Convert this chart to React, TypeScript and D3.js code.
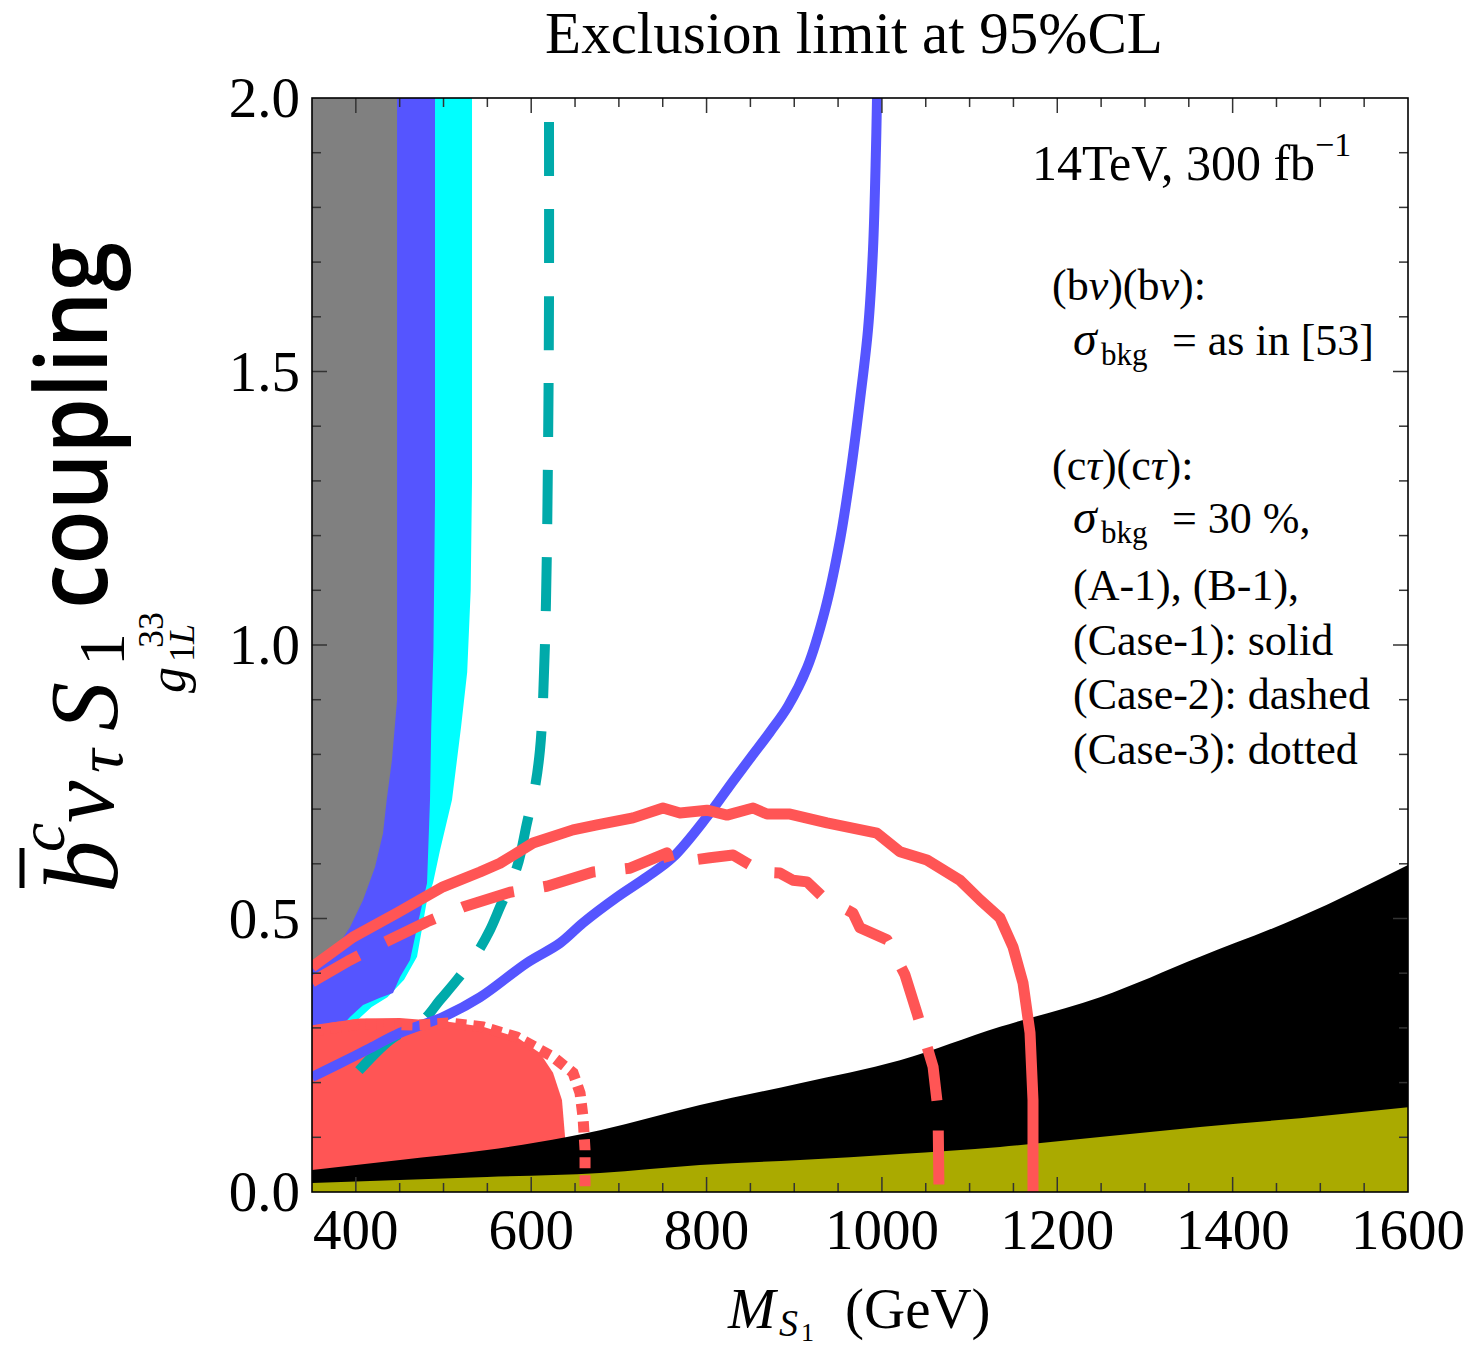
import React from 'react';
import * as d3 from 'd3';

// ---------- data (M_S1 in GeV, coupling g) ----------
const xTickValues = [400, 600, 800, 1000, 1200, 1400, 1600];
const yTickValues = [0, 0.5, 1.0, 1.5, 2.0];

const grayRegion: [number, number][] = [
  [350, 2], [447, 2], [447, 0.899], [441.2, 0.79], [435.2, 0.717], [431, 0.656],
  [421.9, 0.594], [408.2, 0.534], [393.3, 0.484], [378.5, 0.448], [350, 0.419],
];
const blueRegion: [number, number][] = [
  [350, 2], [490.3, 2], [490.3, 1.265], [488.5, 0.991], [486, 0.85], [484.6, 0.717], [481.2, 0.565],
  [470.9, 0.492], [461.8, 0.424], [450.4, 0.393], [442.4, 0.364], [427.6, 0.355],
  [408.2, 0.342], [393.3, 0.32], [381.9, 0.3], [350, 0.27],
];
const cyanRegion: [number, number][] = [
  [350, 2], [532.5, 2], [532.5, 1.3], [531, 1.1], [527, 0.95], [520, 0.85],
  [509.7, 0.717], [496, 0.625], [488, 0.565], [481.2, 0.534], [469.8, 0.43],
  [455, 0.388], [436, 0.356], [418, 0.338], [392, 0.3], [360, 0.278], [350, 0.27],
];
const redFillRegion: [number, number][] = [
  [350, 0.305], [404.7, 0.317], [450, 0.318], [475, 0.315], [507.4, 0.311], [545, 0.302], [583.8, 0.283],
  [610, 0.254], [624.9, 0.218], [635.1, 0.168], [638.6, 0.101], [639, 0], [350, 0],
];
const blackTop: [number, number][] = [
  [350, 0.04], [450.4, 0.0585], [549.6, 0.0768], [640.8, 0.1005], [678.5, 0.113],
  [792.5, 0.159], [906.6, 0.199], [1020.6, 0.241], [1134.7, 0.302], [1248.7, 0.356],
  [1362.8, 0.43], [1476.8, 0.503], [1600, 0.598],
];
const yellowTop: [number, number][] = [
  [350, 0.0165], [549.6, 0.0274], [678.5, 0.0347], [792.5, 0.0494], [906.6, 0.0585],
  [1020.6, 0.0695], [1134.7, 0.0823], [1248.7, 0.1005], [1362.8, 0.119],
  [1476.8, 0.135], [1600, 0.155],
];
const bvSolid: [number, number][] = [
  [994.4, 2.0], [993.2, 1.905], [989.8, 1.722], [984.1, 1.576], [975, 1.448],
  [964.7, 1.32], [952.2, 1.192], [935.1, 1.064], [914.6, 0.958], [892.9, 0.888],
  [872.4, 0.841], [850.7, 0.795], [830.2, 0.751], [800.5, 0.686], [761.7, 0.612], [732.1, 0.576],
  [697.9, 0.539], [659.1, 0.492], [632.8, 0.455], [595.2, 0.419], [541.6, 0.356],
  [499.4, 0.32], [450.4, 0.291], [412.7, 0.26], [374, 0.229], [350, 0.21],
];
const tealDashed: [number, number][] = [
  [620.3, 1.956], [620.3, 1.631], [619.2, 1.357], [616.9, 1.082], [613.5, 0.899],
  [610, 0.808], [604.3, 0.74], [595.2, 0.675], [583.8, 0.594], [564.4, 0.521],
  [553, 0.479], [538.2, 0.437], [515.4, 0.388], [496, 0.351], [476.6, 0.314],
  [439, 0.278], [399, 0.214],
];
const ctSolid: [number, number][] = [
  [350, 0.411], [396.8, 0.466], [446.9, 0.51], [499.4, 0.558], [541.6, 0.585],
  [564.4, 0.601], [602, 0.638], [647.7, 0.662], [675, 0.671], [716.1, 0.684],
  [750.3, 0.702], [769.7, 0.693], [800.5, 0.698], [823.3, 0.689], [853, 0.702],
  [868.9, 0.691], [895.2, 0.691], [937.4, 0.675], [994.4, 0.656], [1020.6, 0.622],
  [1051.4, 0.607], [1089, 0.57], [1111.9, 0.534], [1134.7, 0.501], [1149.5, 0.448],
  [1160.9, 0.382], [1168.9, 0.291], [1172.3, 0.168], [1172.3, 0],
];
const ctDashed: [number, number][] = [
  [350, 0.384], [393.3, 0.424], [431, 0.455], [481.2, 0.494], [522.2, 0.521],
  [575.8, 0.548], [618, 0.559], [670.5, 0.585], [712.7, 0.592], [754.9, 0.62],
  [758.3, 0.601], [803.9, 0.611], [830.2, 0.616], [849.5, 0.598], [853, 0.585],
  [883.8, 0.583], [898.6, 0.57], [914.6, 0.567], [932.8, 0.539], [967, 0.51],
  [975, 0.483], [1005.8, 0.461], [1026.3, 0.397], [1040, 0.327], [1058.3, 0.229],
  [1064, 0.15], [1065.1, 0],
];
const ctDotted: [number, number][] = [
  [350, 0.294], [404.7, 0.307], [469.8, 0.305], [507.4, 0.309], [545, 0.302],
  [583.8, 0.283], [624.9, 0.247], [647.7, 0.218], [655.7, 0.181], [659.1, 0.137],
  [661.4, 0.077], [661.4, 0],
];

// ---------- layout ----------
const W = 1476, H = 1347;
const L = 312, R = 1408, T = 98, B = 1192;
const serif = '"Liberation Serif", "Times New Roman", serif';
const sans = '"Open Sans", "Noto Sans", sans-serif';

export default function App() {
  const x = d3.scaleLinear().domain([350, 1600]).range([L, R]);
  const y = d3.scaleLinear().domain([0, 2]).range([B, T]);
  const line = d3.line<[number, number]>().x(d => x(d[0])).y(d => y(d[1]));
  const smooth = d3.line<[number, number]>().x(d => x(d[0])).y(d => y(d[1])).curve(d3.curveCatmullRom);
  const poly = (pts: [number, number][]) => line(pts) + 'Z';
  const areaBelow = d3.area<[number, number]>()
    .x(d => x(d[0])).y0(y(0)).y1(d => y(d[1])).curve(d3.curveMonotoneX);

  const xMinor = d3.range(400, 1600, 50);
  const yMinor = d3.range(0.1, 2.0, 0.1);
  const isMajorX = (v: number) => Math.abs((v - 400) % 200) < 1e-6;
  const isMajorY = (v: number) => Math.abs(v * 2 - Math.round(v * 2)) < 1e-6;

  const tickColor = '#333';
  const maj = 15, mnr = 9;

  return (
    <svg width={W} height={H} style={{ position: 'absolute', left: 0, top: 0, background: '#fff' }}>
      <defs>
        <clipPath id="plot">
          <rect x={L} y={T} width={R - L} height={B - T} />
        </clipPath>
      </defs>
      <rect x={0} y={0} width={W} height={H} fill="#fff" />
      <g clipPath="url(#plot)">
        <path d={poly(cyanRegion)} fill="#00ffff" />
        <path d={poly(blueRegion)} fill="#5555ff" />
        <path d={poly(grayRegion)} fill="#808080" />
        <path d={poly(redFillRegion)} fill="#ff5555" />
        <path d={areaBelow(blackTop) || ''} fill="#000" />
        <path d={areaBelow(yellowTop) || ''} fill="#aaaa00" />
        <path d={smooth(tealDashed) || ''} fill="none" stroke="#00aaaa" strokeWidth={10} strokeDasharray="54 33" />
        <path d={smooth(bvSolid) || ''} fill="none" stroke="#5555ff" strokeWidth={10} strokeLinejoin="round" />
        <path d={line(ctSolid) || ''} fill="none" stroke="#ff5555" strokeWidth={11} strokeLinejoin="round" />
        <path d={line(ctDashed) || ''} fill="none" stroke="#ff5555" strokeWidth={11} strokeDasharray="54 30" strokeLinejoin="round" />
        <path d={line(ctDotted) || ''} fill="none" stroke="#ff5555" strokeWidth={11} strokeDasharray="11 7" />
      </g>

      {/* ticks */}
      <g stroke={tickColor} strokeWidth={1.5}>
        {xMinor.map(v => {
          const len = isMajorX(v) ? maj : mnr;
          return (
            <g key={'x' + v}>
              <line x1={x(v)} x2={x(v)} y1={B} y2={B - len} />
              <line x1={x(v)} x2={x(v)} y1={T} y2={T + len} />
            </g>
          );
        })}
        {yMinor.map(v => {
          const len = isMajorY(v) ? maj : mnr;
          return (
            <g key={'y' + v.toFixed(2)}>
              <line x1={L} x2={L + len} y1={y(v)} y2={y(v)} />
              <line x1={R} x2={R - len} y1={y(v)} y2={y(v)} />
            </g>
          );
        })}
      </g>
      <rect x={L} y={T} width={R - L} height={B - T} fill="none" stroke="#000" strokeWidth={1.6} />

      {/* tick labels */}
      <g fontFamily={serif} fontSize={57} fill="#000">
        {xTickValues.map(v => (
          <text key={'xl' + v} x={x(v)} y={1249} textAnchor="middle">{v}</text>
        ))}
        {yTickValues.map(v => (
          <text key={'yl' + v} x={300} y={y(v) + 19} textAnchor="end">{v.toFixed(1)}</text>
        ))}
      </g>

      {/* title */}
      <text x={854} y={53} textAnchor="middle" fontFamily={serif} fontSize={59}>Exclusion limit at 95%CL</text>

      {/* x axis title */}
      <g fontFamily={serif} fill="#000">
        <text x={728} y={1328} fontSize={57} fontStyle="italic">M</text>
        <text x={779} y={1336} fontSize={38} fontStyle="italic">S</text>
        <text x={801} y={1341} fontSize={26}>1</text>
        <text x={845} y={1328} fontSize={57}>(GeV)</text>
      </g>

      {/* y axis title */}
      <g transform="rotate(-90)" fill="#000">
        <text x={-893} y={117} fontFamily={serif} fontStyle="italic" fontSize={105}>b</text>
        <line x1={-888} x2={-848} y1={22} y2={22} stroke="#000" strokeWidth={5} />
        <text x={-852} y={64} fontFamily={serif} fontStyle="italic" fontSize={66}>c</text>
        <text x={-823} y={113} fontFamily={serif} fontStyle="italic" fontSize={95}>ν</text>
        <text x={-773} y={122} fontFamily={serif} fontStyle="italic" fontSize={66}>τ</text>
        <text x={-731} y={117} fontFamily={serif} fontStyle="italic" fontSize={98}>S</text>
        <text x={-666} y={124} fontFamily={serif} fontSize={66}>1</text>
        <text x={-609} y={107} fontFamily={sans} fontWeight={600} fontSize={100} textLength={367} lengthAdjust="spacingAndGlyphs">coupling</text>
        <text x={-693} y={185} fontFamily={serif} fontStyle="italic" fontSize={52}>g</text>
        <text x={-648} y={163} fontFamily={serif} fontSize={36}>33</text>
        <text x={-662} y={194} fontFamily={serif} fontSize={36}>1<tspan fontStyle="italic">L</tspan></text>
      </g>

      {/* annotations */}
      <g fontFamily={serif} fill="#000">
        <text x={1032} y={180} fontSize={50}>14TeV, 300 fb<tspan dy={-24} fontSize={34}>−1</tspan></text>
        <text x={1052} y={300} fontSize={44}>(b<tspan fontStyle="italic">ν</tspan>)(b<tspan fontStyle="italic">ν</tspan>):</text>
        <text x={1073} y={355} fontSize={48} fontStyle="italic">σ</text>
        <text x={1101} y={365} fontSize={31}>bkg</text>
        <text x={1172} y={355} fontSize={44}>= as in [53]</text>
        <text x={1052} y={480} fontSize={44}>(c<tspan fontStyle="italic">τ</tspan>)(c<tspan fontStyle="italic">τ</tspan>):</text>
        <text x={1073} y={533} fontSize={48} fontStyle="italic">σ</text>
        <text x={1101} y={543} fontSize={31}>bkg</text>
        <text x={1172} y={533} fontSize={44}>= 30 %,</text>
        <text x={1073} y={600} fontSize={44}>(A-1), (B-1),</text>
        <text x={1073} y={655} fontSize={44}>(Case-1): solid</text>
        <text x={1073} y={709} fontSize={44}>(Case-2): dashed</text>
        <text x={1073} y={764} fontSize={44}>(Case-3): dotted</text>
      </g>
    </svg>
  );
}
